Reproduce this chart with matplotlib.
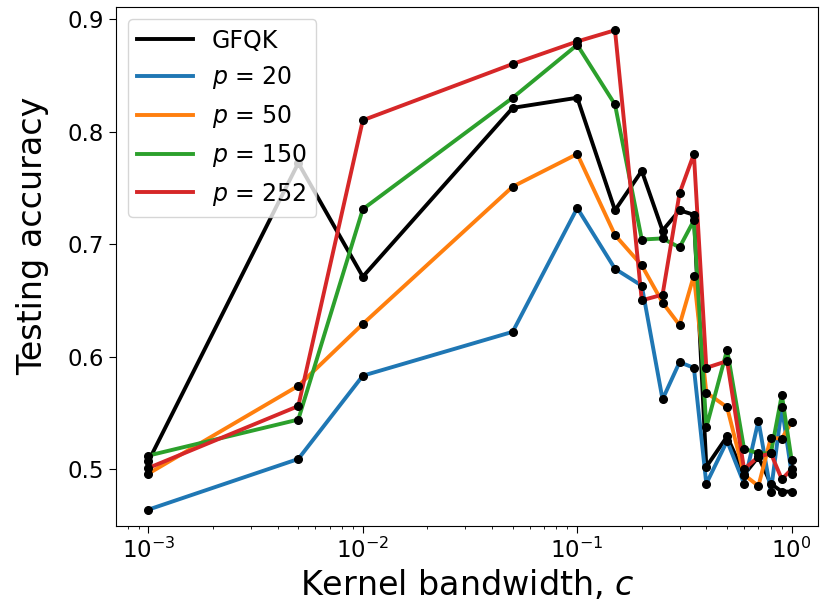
import matplotlib
matplotlib.use("Agg")
import matplotlib.pyplot as plt

# kernel bandwidths
c_vals = [0.001, 0.005, 0.01, 0.05, 0.1, 0.15, 0.2, 0.25, 0.3, 0.35,
          0.4, 0.5, 0.6, 0.7, 0.8, 0.9, 1.0]

# testing accuracy per model
gfqk = [0.507, 0.772, 0.671, 0.821, 0.830, 0.730, 0.765, 0.712, 0.730, 0.726,
        0.502, 0.529, 0.495, 0.511, 0.487, 0.480, 0.480]
p20 = [0.464, 0.509, 0.583, 0.622, 0.732, 0.678, 0.663, 0.562, 0.595, 0.590,
       0.487, 0.525, 0.487, 0.543, 0.480, 0.555, 0.496]
p50 = [0.496, 0.574, 0.629, 0.751, 0.780, 0.708, 0.681, 0.648, 0.628, 0.672,
       0.568, 0.555, 0.495, 0.485, 0.528, 0.527, 0.542]
p150 = [0.512, 0.544, 0.731, 0.830, 0.877, 0.824, 0.704, 0.705, 0.697, 0.721,
        0.537, 0.606, 0.518, 0.514, 0.514, 0.566, 0.508]
p252 = [0.501, 0.556, 0.810, 0.860, 0.880, 0.890, 0.650, 0.655, 0.745, 0.780,
        0.590, 0.596, 0.500, 0.511, 0.514, 0.491, 0.500]

series = [
    (gfqk, "k", "GFQK"),
    (p20, "tab:blue", r"$p$ = 20"),
    (p50, "tab:orange", r"$p$ = 50"),
    (p150, "tab:green", r"$p$ = 150"),
    (p252, "tab:red", r"$p$ = 252"),
]

fig = plt.figure(figsize=(8.29, 6.06), dpi=100)
ax = fig.add_axes([0.140, 0.1325, 0.847, 0.8555])

for ys, col, lab in series:
    ax.plot(c_vals, ys, color=col, lw=2.8, label=lab)
# black dots on top of every line
for ys, col, lab in series:
    ax.plot(c_vals, ys, "o", color="k", ms=5.5, zorder=5)

ax.set_xscale("log")
ax.set_xlim(10 ** -3.151, 10 ** 0.124)
ax.set_ylim(0.4497, 0.9104)
ax.set_yticks([0.5, 0.6, 0.7, 0.8, 0.9])
ax.tick_params(labelsize=16.5, length=5)
ax.set_xlabel(r"Kernel bandwidth, $c$", fontsize=24)
ax.set_ylabel("Testing accuracy", fontsize=24)
ax.yaxis.set_label_coords(-0.095, 0.559)
ax.legend(loc="upper left", fontsize=17, handlelength=2.35)

fig.savefig("out.png", dpi=100)
